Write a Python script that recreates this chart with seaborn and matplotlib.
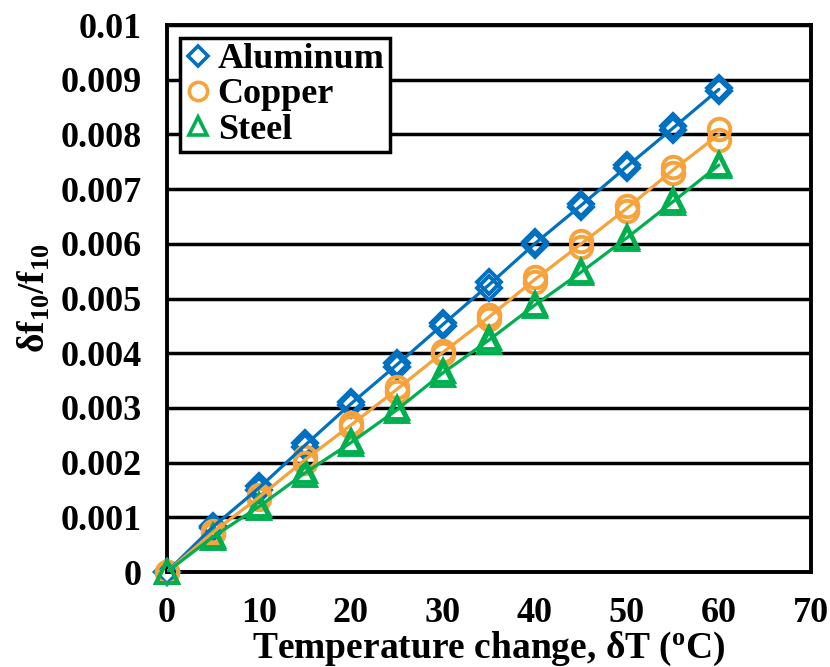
import matplotlib
matplotlib.use("Agg")
import matplotlib.pyplot as plt
import seaborn as sns
import pandas as pd
import numpy as np
from matplotlib.ticker import MultipleLocator
from matplotlib.lines import Line2D

# ---- data ----
temps = [0, 5, 10, 15, 20, 25, 30, 35, 40, 45, 50, 55, 60]
materials = ["Aluminum", "Copper", "Steel"]
aluminum_run1 = [0, 0.00085, 0.00157, 0.00235, 0.00310, 0.00383, 0.00455, 0.00530, 0.00603, 0.00672, 0.00745, 0.00815, 0.00885]
aluminum_run2 = [0, 0.00080, 0.00150, 0.00228, 0.00305, 0.00375, 0.00450, 0.00520, 0.00598, 0.00668, 0.00738, 0.00808, 0.00880]
copper_run1 = [0, 0.00075, 0.00140, 0.00210, 0.00272, 0.00338, 0.00405, 0.00470, 0.00540, 0.00605, 0.00670, 0.00740, 0.00810]
copper_run2 = [0, 0.00070, 0.00133, 0.00200, 0.00265, 0.00330, 0.00398, 0.00462, 0.00530, 0.00594, 0.00660, 0.00730, 0.00790]
steel_run1 = [0, 0.00066, 0.00122, 0.00184, 0.00239, 0.00299, 0.00367, 0.00427, 0.00490, 0.00550, 0.00613, 0.00680, 0.00746]
steel_run2 = [0, 0.00062, 0.00117, 0.00178, 0.00234, 0.00294, 0.00361, 0.00421, 0.00486, 0.00546, 0.00609, 0.00674, 0.00742]
x_ticks = [0, 10, 20, 30, 40, 50, 60, 70]
y_ticks = [0, 0.001, 0.002, 0.003, 0.004, 0.005, 0.006, 0.007, 0.008, 0.009, 0.01]
y_tick_labels = ["0", "0.001", "0.002", "0.003", "0.004", "0.005", "0.006", "0.007", "0.008", "0.009", "0.01"]

runs = {
    "Aluminum": [aluminum_run1, aluminum_run2],
    "Copper": [copper_run1, copper_run2],
    "Steel": [steel_run1, steel_run2],
}
colors = {"Aluminum": "#0070C0", "Copper": "#F7A23A", "Steel": "#00B050"}
markers = {"Aluminum": "D", "Copper": "o", "Steel": "^"}
msizes = {"Aluminum": 12, "Copper": 15.5, "Steel": 16}

rows = []
for m in materials:
    for r, vals in enumerate(runs[m]):
        for t, v in zip(temps, vals):
            rows.append({"material": m, "run": r, "T": t, "val": v})
df = pd.DataFrame(rows)

sns.set_style("white")
plt.rcParams["font.family"] = ["Liberation Serif", "DejaVu Serif"]
plt.rcParams["font.weight"] = "bold"
plt.rcParams["text.color"] = "black"
plt.rcParams["axes.labelcolor"] = "black"
plt.rcParams["xtick.color"] = "black"
plt.rcParams["ytick.color"] = "black"
plt.rcParams["mathtext.fontset"] = "custom"
plt.rcParams["mathtext.rm"] = "Liberation Serif:bold"
plt.rcParams["mathtext.it"] = "Liberation Serif:bold"
plt.rcParams["mathtext.bf"] = "Liberation Serif:bold"

fig = plt.figure(figsize=(8.3, 6.67), dpi=100)
ax = fig.add_axes([0.201, 0.1424, 0.776, 0.820])

for m in materials:
    sub = df[df.material == m]
    for r in sorted(sub.run.unique()):
        s = sub[sub.run == r]
        sns.lineplot(data=s, x="T", y="val", ax=ax, estimator=None, linestyle="none",
                     marker=markers[m], markersize=msizes[m], markerfacecolor="none",
                     markeredgecolor=colors[m], markeredgewidth=2.8, color=colors[m],
                     zorder=3, clip_on=False)
    sns.lineplot(data=sub, x="T", y="val", ax=ax, errorbar=None, color=colors[m],
                 linewidth=2.3, zorder=4)

ax.set_xlim(0, 70)
ax.set_ylim(0, 0.01)
ax.set_xticks(x_ticks)
ax.set_xticklabels([str(t) for t in x_ticks])
ax.set_yticks(y_ticks)
ax.set_yticklabels(y_tick_labels)
ax.xaxis.set_minor_locator(MultipleLocator(2))
ax.yaxis.set_minor_locator(MultipleLocator(0.0005))
ax.tick_params(axis="both", which="major", direction="out", length=9, width=2.5,
               labelsize=26, labelcolor="black", color="black", pad=9)
ax.tick_params(axis="both", which="minor", direction="out", length=6, width=2.5, color="black")
for lab in ax.get_xticklabels() + ax.get_yticklabels():
    lab.set_fontweight("bold")

ax.grid(True, axis="y", color="black", linewidth=2.5)
ax.grid(False, axis="x")
ax.set_axisbelow(True)
for sp in ax.spines.values():
    sp.set_visible(True)
    sp.set_color("black")
    sp.set_linewidth(2.8)

ax.set_xlabel(r"Temperature change, δT ($^{\mathrm{o}}$C)", fontsize=27, fontweight="bold",
              labelpad=0, color="black")
ax.set_ylabel(r"δf$_{10}$/f$_{10}$", fontsize=27, fontweight="bold", labelpad=6, color="black")

handles = [Line2D([], [], linestyle="none", marker=markers[m], markersize=msizes[m] * 0.85,
                  markerfacecolor="none", markeredgecolor=colors[m], markeredgewidth=2.6)
           for m in materials]
leg = ax.legend(handles, materials, loc="upper left", bbox_to_anchor=(0.02, 0.977),
                prop={"family": "Liberation Serif", "weight": "bold", "size": 26},
                frameon=True, fancybox=False, edgecolor="black", framealpha=1,
                handlelength=0.7, handletextpad=0.2, borderpad=0.15, labelspacing=0.05,
                borderaxespad=0)
leg.get_frame().set_linewidth(2.5)
for t in leg.get_texts():
    t.set_color("black")
leg.set_zorder(10)

fig.savefig("out.png", dpi=100)
